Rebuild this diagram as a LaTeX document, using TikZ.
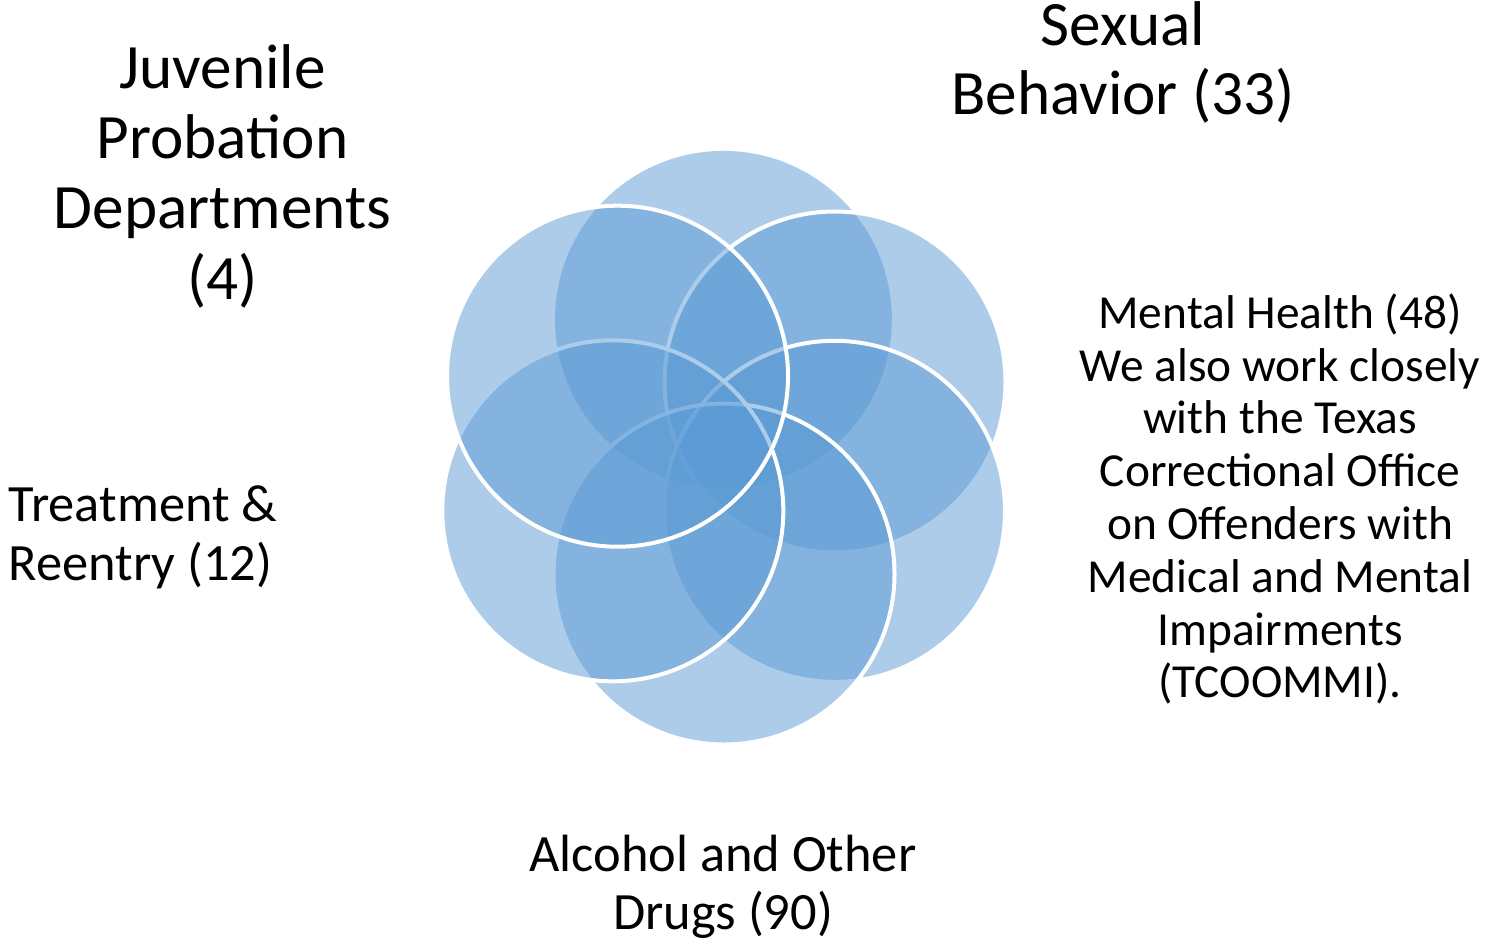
\documentclass[tikz,border=0pt]{standalone}
\usepackage{fontspec}
\setmainfont{Carlito}
\definecolor{petalblue}{HTML}{5B9BD5}
\begin{document}
\begin{tikzpicture}[x=0.5pt,y=-0.5pt,
  petalc/.style={circle, inner sep=0pt, outer sep=0pt, fill=petalblue, fill opacity=0.5, draw=white, line width=2pt, minimum size=170.5pt},
  petalnl/.style={petalc, draw=none, minimum size=168.4pt},
  lbl/.style={inner sep=0pt, outer sep=0pt, anchor=base, text=black},
  fbig/.style={lbl, font=\fontsize{31.6}{38}\selectfont},
  fmid/.style={lbl, font=\fontsize{26.2}{31}\selectfont},
  fsml/.style={lbl, font=\fontsize{23.7}{28}\selectfont}]
\fill[white] (0,0) rectangle (1486,942);
\useasboundingbox (0,0) rectangle (1486,942);
% circles, drawn clockwise from the top
\node[petalnl] (A) at (723.4,319.3) {};
\node[petalc] (C) at (835,382) {};
\node[petalc] (E) at (834.5,511.3) {};
\node[petalc] (F) at (724,574) {};
\node[petalc] (D) at (612.8,510.8) {};
\node[petalc] (B) at (617.5,376.2) {};
% Juvenile Probation Departments
\node[fbig] (jv1) at (222.5,88) {Juvenile};
\node[fbig] (jv2) at (222.5,158) {Probation};
\node[fbig] (jv3) at (222.5,228) {Departments};
\node[fbig] (jv4) at (222.5,299) {(4)};
% Sexual Behavior
\node[fbig] (sx1) at (1123,45) {Sexual};
\node[fbig] (sx2) at (1123,114) {Behavior (33)};
% Mental Health
\node[fsml] (mh1) at (1280,328.3) {Mental Health (48)};
\node[fsml] (mh2) at (1280,381.1) {We also work closely};
\node[fsml] (mh3) at (1280,433.9) {with the Texas};
\node[fsml] (mh4) at (1280,486.7) {Correctional Office};
\node[fsml] (mh5) at (1280,539.5) {on Offenders with};
\node[fsml] (mh6) at (1280,592.3) {Medical and Mental};
\node[fsml] (mh7) at (1280,645.1) {Impairments};
\node[fsml] (mh8) at (1280,697.9) {(TCOOMMI).};
% Treatment & Reentry
\node[fmid, anchor=base west] (tr1) at (9,521.7) {Treatment \&};
\node[fmid, anchor=base west] (tr2) at (9,580) {Reentry (12)};
% Alcohol and Other Drugs
\node[fmid] (al1) at (723,871) {Alcohol and Other};
\node[fmid] (al2) at (723,929) {Drugs (90)};
\end{tikzpicture}
\end{document}
